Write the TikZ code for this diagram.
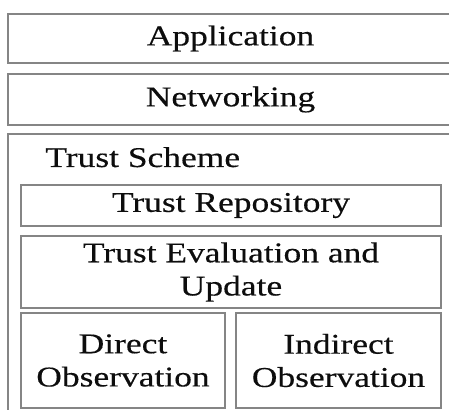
\documentclass[tikz,border=0pt]{standalone}
\usepackage{fontspec}
\setmainfont{Liberation Serif}[FakeStretch=1.24,FakeBold=0.35]
\usepackage{tikz}
\usetikzlibrary{shapes,shadows}

\tikzset{
	layer/.style={rectangle,draw=black!48,line width=0.75pt,fill=white,inner sep=0pt,
		drop shadow={shadow xshift=0.6pt,shadow yshift=-0.6pt,fill=black!18,opacity=1},
		font=\fontsize{14.3}{16.6}\selectfont,text=black!95,align=center},
	label/.style={font=\fontsize{14.3}{16.6}\selectfont,text=black!95,inner sep=0pt}
}

\begin{document}
\begin{tikzpicture}[x=0.5pt,y=-0.5pt]
	
		\useasboundingbox (0,0) rectangle (449,410);
		\clip (0,0) rectangle (449,410);
		
		\node[layer,minimum width=222.5pt,minimum height=24.5pt] (app) at (230.5,38.5) {Application};
		\node[layer,minimum width=222.5pt,minimum height=25.5pt] (net) at (230.5,99.5) {Networking};
		\node[layer,minimum width=222.5pt,minimum height=150pt] (scheme) at (230.5,284) {};
		\node[label,anchor=base west] (schemename) at (45,167) {Trust Scheme};
		
		\node[layer,minimum width=210pt,minimum height=20.5pt] (repo) at (231,205.5) {Trust Repository};
		\node[layer,minimum width=210pt,minimum height=36pt] (eval) at (231,272) {Trust Evaluation and\\Update};
		\node[layer,minimum width=102pt,minimum height=47.5pt] (direct) at (123,360.5) {Direct\\Observation};
		\node[layer,minimum width=102.5pt,minimum height=47.5pt] (indirect) at (338.5,360.5) {Indirect\\Observation};
		
	\end{tikzpicture}
\end{document}
